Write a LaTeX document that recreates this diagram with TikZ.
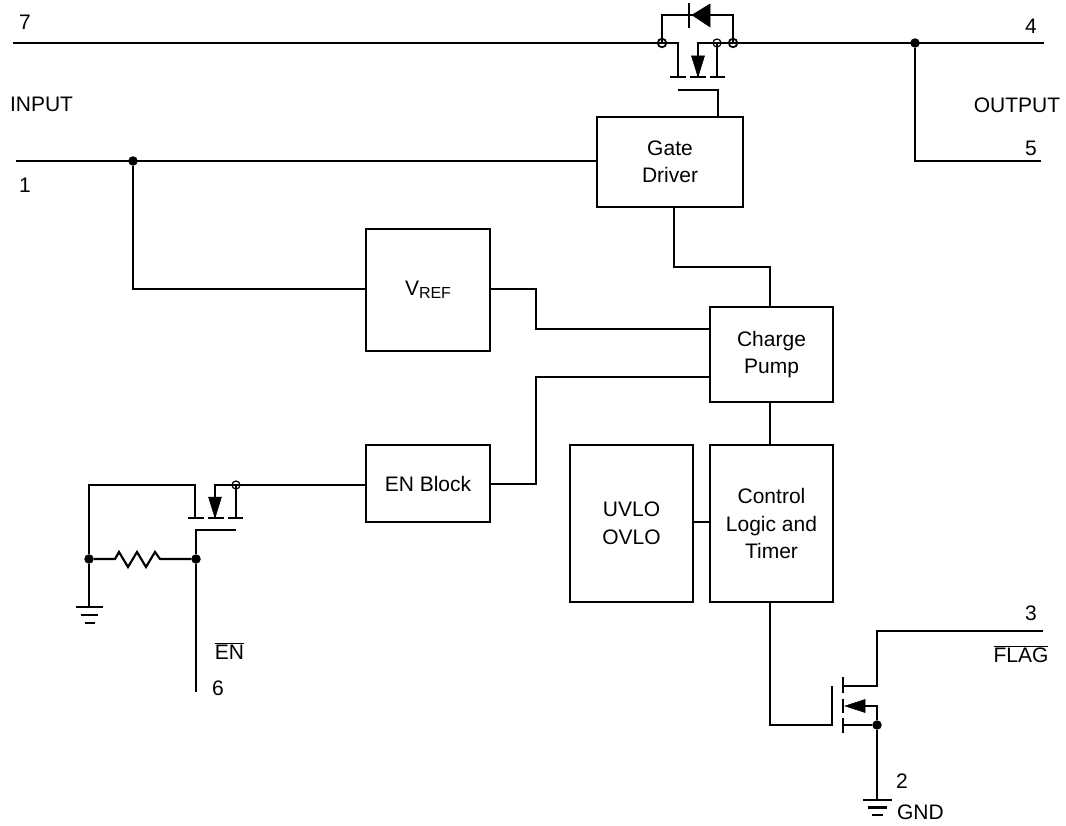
\documentclass[tikz,border=0pt]{standalone}
\usepackage{fontspec}
\setmainfont{Liberation Sans}
\tikzset{
  x=1pt,y=-1pt,
  wire/.style={line width=2.2pt,line join=miter},
  block/.style={draw,line width=2.2pt,inner sep=0pt,outer sep=0pt,align=center,font=\fontsize{21}{27.5}\selectfont},
  lbl/.style={inner sep=0pt,outer sep=0pt,font=\fontsize{21}{25}\selectfont},
  dotnode/.style={circle,fill=black,inner sep=0pt,minimum size=9.5pt,outer sep=0pt},
  ringdot/.style={circle,draw,line width=1.2pt,inner sep=0pt,minimum size=8pt,outer sep=0pt},
  ringfill/.style={circle,draw,line width=1.8pt,inner sep=0pt,minimum size=8.5pt,outer sep=0pt},
  head/.style={fill=black,draw=black,line width=.5pt,line join=miter},
}
\newcommand{\boxat}[6]{\node[block,minimum width=#4 pt-#2 pt,minimum height=#5 pt-#3 pt] (#1) at ({(#2+#4)/2},{(#3+#5)/2}) {#6};}
\begin{document}
\begin{tikzpicture}
\useasboundingbox (0,0) rectangle (1066,826);
% blocks
\boxat{gd}{597}{117}{743}{207}{Gate\\Driver}
\boxat{vref}{366}{229}{490}{351}{\raisebox{3pt}{V\raisebox{-.3ex}{\fontsize{16}{16}\selectfont REF}}}
\boxat{cp}{710}{307}{833}{402}{Charge\\Pump}
\boxat{enb}{366}{445}{490}{522}{EN Block}
\boxat{uv}{570}{445}{693}{602}{UVLO\\OVLO}
\boxat{ctl}{710}{445}{833}{602}{Control\\Logic and\\Timer}
% coordinates
\coordinate (in7) at (13,43);
\coordinate (sL) at (678,43);
\coordinate (sR) at (698,43);
\coordinate (out4) at (1044,43);
\coordinate (in1) at (16,161);
\coordinate (out5) at (1041,161);
\coordinate (g1) at (678,90);
\coordinate (g2) at (718,90);
% junctions
\node[ringfill] (jd1) at (662,43) {};
\node[ringfill] (jd2) at (733,43) {};
\node[ringdot] (jb) at (717,43) {};
\node[dotnode] (jo) at (915,43) {};
\node[dotnode] (ji) at (133,161) {};
% top rail and MOSFET
\draw[wire] (in7) -- (sL) -- (678,77);
\draw[wire] (sR |- 0,77) -- (sR) -- (out4);
\draw[wire] (717,43) -- (717,77);
\draw[wire] (670,77) -- (686,77) (690,77) -- (706,77) (710,77) -- (725,77);
\fill[head] (691.5,56) -- (704.5,56) -- (698,77) -- cycle;
\draw[wire] (g1) -- (g2) -- (g2 |- gd.north);
% diode
\draw[wire] (662,43) -- (662,15) -- (733,15) -- (733,43);
\draw[wire] (689,3) -- (689,28);
\fill[head] (692,15) -- (710,4) -- (710,27) -- cycle;
% output
\draw[wire] (jo) -- (915,161) -- (out5);
% input
\draw[wire] (in1) -- (gd.west |- in1);
\draw[wire] (ji) -- (133,289) -- (vref.west |- 0,289);
% block links
\draw[wire] (vref.east |- 0,289) -- (536,289) -- (536,329) -- (cp.west |- 0,329);
\draw[wire] (gd.south -| 674,0) -- (674,267) -- (770,267) -- (cp.north -| 770,0);
\draw[wire] (cp.south -| 770,0) -- (ctl.north -| 770,0);
\draw[wire] (cp.west |- 0,377) -- (536,377) -- (536,484) -- (enb.east |- 0,484);
\draw[wire] (uv.east |- 0,522) -- (ctl.west |- 0,522);
% EN MOSFET
\node[ringdot] (je) at (236,485) {};
\node[dotnode] (jr) at (196,559) {};
\node[dotnode] (jg) at (89,559) {};
\coordinate (gnd1) at (89,607);
\coordinate (en6) at (196,692);
\draw[wire] (enb.west |- 0,485) -- (215,485) -- (215,518);
\draw[wire] (236,485) -- (236,518);
\draw[wire] (188,518) -- (204,518) (208,518) -- (224,518) (228,518) -- (243,518);
\fill[head] (208.5,497) -- (221.5,497) -- (215,518) -- cycle;
\draw[wire] (gnd1) -- (jg) -- (89,485) -- (195,485) -- (195,518);
\draw[wire] (236,530) -- (196,530) -- (jr) -- (en6);
\draw[wire] (jg) -- (115,559) -- (119,552) -- (128,567) -- (137,552) -- (146,567) -- (155,552) -- (160,559) -- (jr);
\draw[wire] (76,607) -- (103,607) (81,615) -- (98,615) (85,623) -- (95,623);
% FLAG MOSFET
\node[dotnode] (jf) at (877,725) {};
\coordinate (gnd2) at (877,800);
\coordinate (out3) at (1043,631);
\draw[wire] (ctl.south -| 770,0) -- (770,725) -- (832,725) -- (832,686);
\draw[wire] (843,677) -- (843,693) (843,699) -- (843,713) (843,718) -- (843,733);
\draw[wire] (843,686) -- (877,686) -- (877,631) -- (out3);
\draw[wire] (865,706) -- (877,706) -- (jf);
\fill[head] (845,706) -- (865,699.5) -- (865,712.5) -- cycle;
\draw[wire] (843,725) -- (jf) -- (gnd2);
\draw[wire] (863,800) -- (892,800) (868,807.5) -- (887,807.5) (872,815) -- (883,815);
% labels
\node[lbl] (t7) at (25,22) {7};
\node[lbl] (t4) at (1031,26) {4};
\node[lbl] (tin) at (41.5,104) {INPUT};
\node[lbl] (tout) at (1017,105) {OUTPUT};
\node[lbl] (t5) at (1031,148) {5};
\node[lbl] (t1) at (25,185) {1};
\node[lbl] (ten) at (229.5,651) {$\overline{\mbox{EN}}$};
\node[lbl] (t6) at (218,688) {6};
\node[lbl] (t3) at (1031,613) {3};
\node[lbl] (tfl) at (1021,654) {$\overline{\mbox{FLAG}}$};
\node[lbl] (t2) at (902,781) {2};
\node[lbl,anchor=west] (tg) at (897,812) {GND};
\end{tikzpicture}
\end{document}
